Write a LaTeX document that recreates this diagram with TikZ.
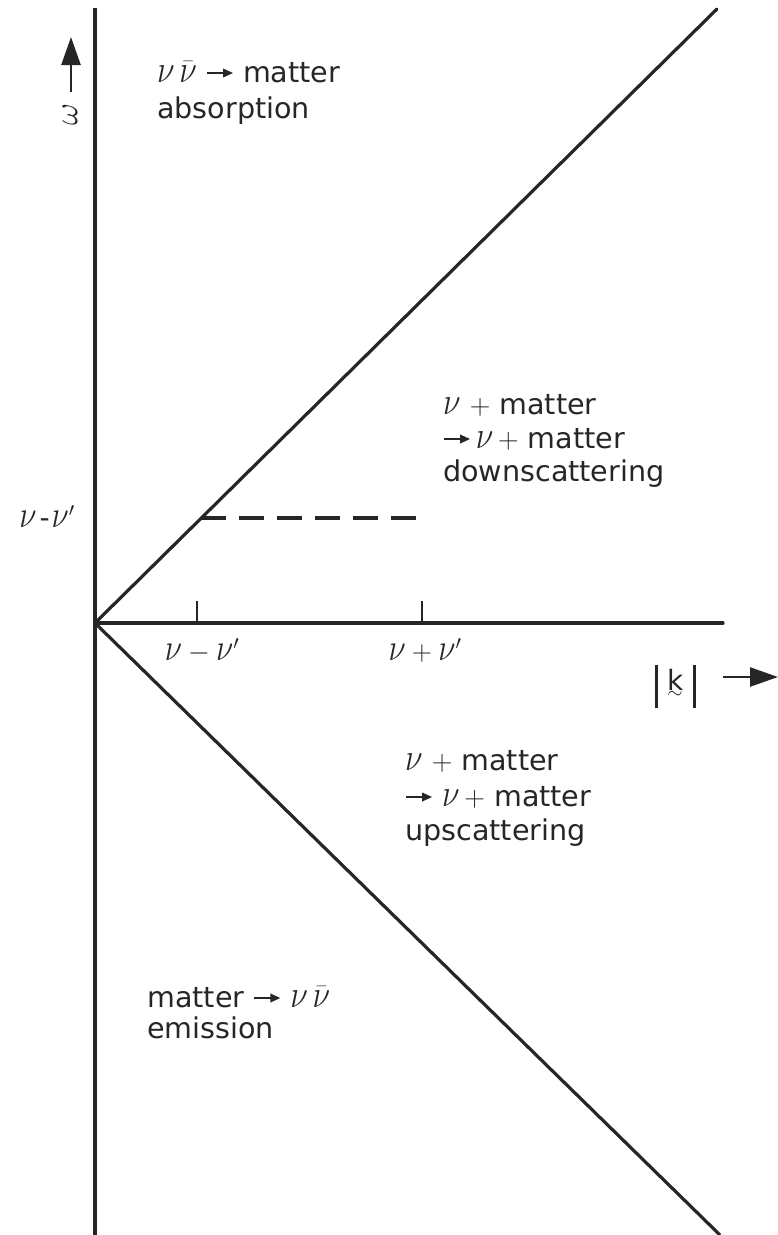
\RequirePackage{fix-cm}
\documentclass[tikz,border=0pt]{standalone}
\usepackage{fontspec}
\setmainfont{DejaVu Sans}
\usetikzlibrary{arrows.meta}
\newcommand{\nuv}{\scalebox{1.12}[1.35]{$\nu$}}
\newcommand{\nubar}{\ensuremath{\bar{\hbox{\nuv}}}}
\newcommand{\tarr}{\tikz[baseline=0pt]\draw[line width=1.9pt,-{Triangle[length=10pt,width=8.5pt]}] (0pt,9pt) -- (26pt,9pt);}
\newcommand{\kbar}{\rule[-18pt]{2.8pt}{43pt}}
\begin{document}
\begin{tikzpicture}[x=1pt,y=-1pt,
  axisline/.style={line width=3.2pt, draw=black!85},
  tickline/.style={line width=2.5pt, draw=black!85},
  dashline/.style={line width=3.2pt, draw=black!85, dash pattern=on 25pt off 13pt},
  lbl/.style={font=\fontsize{28.6}{34}\selectfont, inner sep=0pt, text=black!85},
  mlbl/.style={font=\fontsize{28}{33}\selectfont, inner sep=0pt, text=black!85},
  bigarrow/.style={line width=2.5pt, draw=black!85, -{Triangle[length=28pt,width=19pt]}}
]
\useasboundingbox (0,0) rectangle (778,1235);
% axes
\coordinate (O) at (95,623);
\coordinate (Vtop) at (95,8);
\coordinate (Vbot) at (95,1235);
\coordinate (Hend) at (723,623);
\coordinate (Dup) at (717,9);
\coordinate (Ddn) at (720,1235);
\draw[axisline] (Vtop) -- (Vbot);
\draw[axisline, line cap=round] (O) -- (Hend);
\draw[axisline, line cap=round] (O) -- (Dup);
\draw[axisline] (O) -- (Ddn);
% dashed line
\coordinate (D1) at (201,518);
\coordinate (D2) at (427,518);
\draw[dashline] (D1) -- (D2);
% ticks
\coordinate (T1a) at (197,601);
\coordinate (T1b) at (197,623);
\coordinate (T2a) at (422,601);
\coordinate (T2b) at (422,623);
\draw[tickline] (T1a) -- (T1b);
\draw[tickline] (T2a) -- (T2b);
% tick labels
\node[mlbl, anchor=base] (tl1) at (202,660) {$\nuv-\nuv'$};
\node[mlbl, anchor=base] (tl2) at (425,660) {$\nuv+\nuv'$};
\node[mlbl, anchor=base] (yl) at (47,527) {\nuv\kern3pt-\kern2pt$\nuv'$};
% omega axis label
\node[mlbl, rotate=90, font=\fontsize{34}{34}\selectfont] (om) at (70,115) {$\omega$};
\coordinate (OmA) at (71,92);
\coordinate (OmB) at (71,37);
\draw[bigarrow] (OmA) -- (OmB);
% k axis label
\node[mlbl, anchor=base west] (kl) at (655,690) {\kbar\hspace{9pt}$\mathop{\hbox{k}}\limits_{\sim}$\hspace{10pt}\kbar};
\coordinate (KA) at (723,677);
\coordinate (KB) at (778,677);
\draw[bigarrow] (KA) -- (KB);
% region labels
\node[lbl, anchor=base west] (abs1) at (157,82) {\nuv\,\nubar\ \tarr\ matter};
\node[lbl, anchor=base west] (abs2) at (157,118) {absorption};
\node[lbl, anchor=base west] (dn1) at (443,414) {\nuv\ $+$ matter};
\node[lbl, anchor=base west] (dn2) at (443,448) {\tarr\,\nuv$\,+$ matter};
\node[lbl, anchor=base west] (dn3) at (443,481) {downscattering};
\node[lbl, anchor=base west] (up1) at (405,770) {\nuv\ $+$ matter};
\node[lbl, anchor=base west] (up2) at (405,806) {\tarr\ \nuv$\,+$ matter};
\node[lbl, anchor=base west] (up3) at (405,840) {upscattering};
\node[lbl, anchor=base west] (em1) at (147,1007) {matter \tarr\ \nuv\,\nubar};
\node[lbl, anchor=base west] (em2) at (147,1038) {emission};
\end{tikzpicture}
\end{document}
